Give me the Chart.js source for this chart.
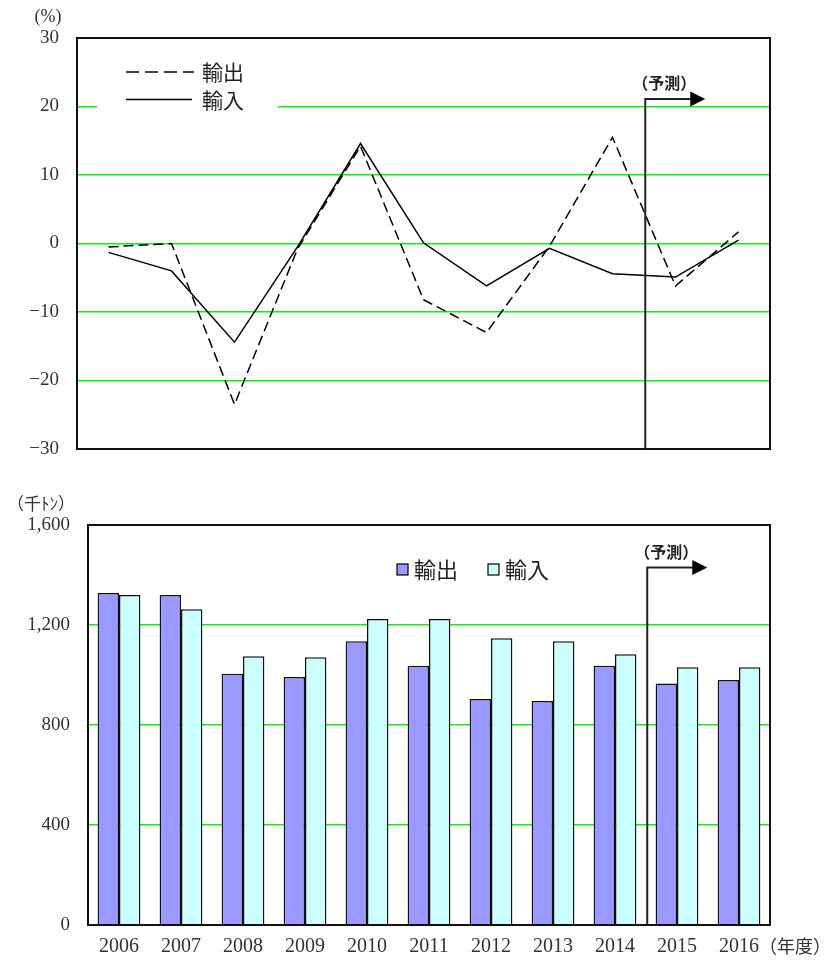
<!DOCTYPE html>
<html>
<head>
<meta charset="utf-8">
<script src="https://cdn.jsdelivr.net/npm/chart.js"></script>
<style>
  body { margin: 0; background: #fff; }
  canvas { display: block; }
</style>
</head>
<body>
<canvas id="growth_chart" width="832" height="470"></canvas>
<canvas id="volume_chart" width="832" height="495"></canvas>
<script>
// fiscal years
const years = ['2006', '2007', '2008', '2009', '2010', '2011', '2012', '2013', '2014', '2015', '2016'];

// year-on-year change (%)
const export_growth = [-0.5, 0.0, -23.5, -0.8, 14.2, -8.2, -13.0, -0.4, 15.5, -6.2, 1.7];
const import_growth = [-1.3, -4.0, -14.4, -0.5, 14.6, 0.1, -6.2, -0.7, -4.4, -4.9, 0.5];

// volume (thousand tons)
const export_volume = [1328, 1320, 1005, 992, 1135, 1037, 904, 896, 1037, 966, 980];
const import_volume = [1320, 1263, 1075, 1071, 1224, 1224, 1147, 1135, 1083, 1031, 1031];

const growth_ticks = [-30, -20, -10, 0, 10, 20, 30];
const volume_ticks = [0, 400, 800, 1200, 1600];

const forecast_from = 8.52;   // between 2014 and 2015
const forecast_label = '（予測）';

const SERIF = "'Liberation Serif', 'DejaVu Serif', serif";
const GOTHIC = "'Noto Sans CJK JP', 'Noto Sans', sans-serif";
const GRID_GREEN = '#11ee11';

function fmt_tick(v) {
  return v.toLocaleString('en-US').replace('-', '\u2212');
}

function draw_frame(ctx, area) {
  ctx.save();
  ctx.strokeStyle = '#111';
  ctx.lineWidth = 2;
  ctx.strokeRect(area.left, area.top, area.right - area.left, area.bottom - area.top);
  ctx.restore();
}

function draw_forecast(chart, value_y) {
  const ctx = chart.ctx;
  const x = chart.scales.x.getPixelForValue(forecast_from);
  const y = chart.scales.y.getPixelForValue(value_y);
  const bottom = chart.chartArea.bottom;
  ctx.save();
  ctx.strokeStyle = '#222';
  ctx.lineWidth = 2;
  ctx.beginPath();
  ctx.moveTo(x, bottom);
  ctx.lineTo(x, y);
  ctx.lineTo(x + 46, y);
  ctx.stroke();
  ctx.fillStyle = '#000';
  ctx.beginPath();
  ctx.moveTo(x + 45, y - 7.5);
  ctx.lineTo(x + 60, y);
  ctx.lineTo(x + 45, y + 7.5);
  ctx.closePath();
  ctx.fill();
  ctx.font = 'bold 16px ' + GOTHIC;
  ctx.fillStyle = '#222';
  ctx.textAlign = 'center';
  ctx.textBaseline = 'middle';
  ctx.fillText(forecast_label, x + 19, y - 16);
  ctx.restore();
}

const growth_overlay = {
  id: 'growth_overlay',
  beforeDatasetsDraw(chart) {
    const ctx = chart.ctx;
    ctx.save();
    // legend box sits on top of the 20% grid line
    ctx.fillStyle = '#fff';
    ctx.fillRect(97, 55, 181, 62);
    ctx.strokeStyle = '#000';
    ctx.lineWidth = 1.5;
    ctx.setLineDash([13, 6]);
    ctx.beginPath();
    ctx.moveTo(126, 72);
    ctx.lineTo(194, 72);
    ctx.stroke();
    ctx.setLineDash([]);
    ctx.beginPath();
    ctx.moveTo(126, 99.5);
    ctx.lineTo(192, 99.5);
    ctx.stroke();
    ctx.font = '21px ' + GOTHIC;
    ctx.fillStyle = '#222';
    ctx.textBaseline = 'middle';
    ctx.fillText('輸出', 202, 72);
    ctx.fillText('輸入', 202, 100);
    ctx.restore();
  },
  afterDatasetsDraw(chart) {
    draw_frame(chart.ctx, chart.chartArea);
    draw_forecast(chart, 21.1);
  },
  afterDraw(chart) {
    const ctx = chart.ctx;
    ctx.save();
    ctx.font = '18px ' + SERIF;
    ctx.fillStyle = '#333';
    ctx.textAlign = 'center';
    ctx.textBaseline = 'middle';
    ctx.fillText('(%)', 48, 17);
    ctx.restore();
  }
};

const volume_overlay = {
  id: 'volume_overlay',
  afterDatasetsDraw(chart) {
    const ctx = chart.ctx;
    draw_frame(ctx, chart.chartArea);
    draw_forecast(chart, 1430);

    // legend
    ctx.save();
    const items = [['輸出', '#9999ff', 397], ['輸入', '#ccffff', 488]];
    ctx.font = '22px ' + GOTHIC;
    ctx.textBaseline = 'middle';
    items.forEach(function (it) {
      ctx.fillStyle = it[1];
      ctx.fillRect(it[2], 94, 11, 11);
      ctx.strokeStyle = '#000';
      ctx.lineWidth = 1.2;
      ctx.strokeRect(it[2], 94, 11, 11);
      ctx.fillStyle = '#222';
      ctx.fillText(it[0], it[2] + 17, 100);
    });
    ctx.restore();
  },
  afterDraw(chart) {
    const ctx = chart.ctx;
    ctx.save();
    ctx.fillStyle = '#333';
    ctx.textBaseline = 'middle';
    ctx.textAlign = 'center';
    ctx.font = '17px ' + GOTHIC;
    ctx.fillText('（千ﾄﾝ）', 41, 34);
    ctx.textAlign = 'left';
    ctx.font = '18px ' + GOTHIC;
    ctx.fillText('（年度）', 759, 476);
    ctx.restore();
  }
};

// invisible tick marks push the labels away from the axis
// without adding the tick padding to the scale's top/bottom
const hidden_ticks = { color: GRID_GREEN, lineWidth: 1.5, tickLength: 18, tickColor: 'rgba(0,0,0,0)' };

function setup_growth_chart() {
  const ctx = document.getElementById('growth_chart').getContext('2d');
  new Chart(ctx, {
    type: 'line',
    data: {
      labels: years,
      datasets: [{
        label: '輸出',
        data: export_growth,
        borderColor: '#000',
        borderWidth: 1.5,
        borderDash: [10, 5],
        pointRadius: 0,
        tension: 0,
        fill: false
      }, {
        label: '輸入',
        data: import_growth,
        borderColor: '#000',
        borderWidth: 1.5,
        pointRadius: 0,
        tension: 0,
        fill: false
      }]
    },
    options: {
      responsive: false,
      animation: false,
      layout: { padding: { left: 0, top: 38, right: 62, bottom: 21 } },
      plugins: { legend: { display: false }, tooltip: { enabled: false } },
      scales: {
        x: { display: false, offset: true },
        y: {
          min: growth_ticks[0],
          max: growth_ticks[growth_ticks.length - 1],
          afterBuildTicks: function (scale) {
            scale.ticks = growth_ticks.map(v => ({ value: v }));
          },
          afterFit: function (scale) { scale.width = 77; },
          border: { display: false },
          grid: hidden_ticks,
          ticks: {
            padding: 0,
            color: '#333',
            font: { family: SERIF, size: 19 },
            callback: fmt_tick
          }
        }
      }
    },
    plugins: [growth_overlay]
  });
}

function setup_volume_chart() {
  const ctx = document.getElementById('volume_chart').getContext('2d');
  new Chart(ctx, {
    type: 'bar',
    data: {
      labels: years,
      datasets: [{
        label: '輸出',
        data: export_volume,
        backgroundColor: '#9999ff',
        borderColor: '#111',
        borderWidth: 1.5,
        categoryPercentage: 0.69,
        barPercentage: 1.0
      }, {
        label: '輸入',
        data: import_volume,
        backgroundColor: '#ccffff',
        borderColor: '#111',
        borderWidth: 1.5,
        categoryPercentage: 0.69,
        barPercentage: 1.0
      }]
    },
    options: {
      responsive: false,
      animation: false,
      layout: { padding: { left: 0, top: 55, right: 62, bottom: 0 } },
      plugins: { legend: { display: false }, tooltip: { enabled: false } },
      scales: {
        x: {
          afterFit: function (scale) { scale.height = 40; },
          border: { display: false },
          grid: { display: false, drawTicks: false },
          ticks: {
            padding: 10,
            color: '#333',
            maxRotation: 0,
            font: { family: SERIF, size: 20 }
          }
        },
        y: {
          min: volume_ticks[0],
          max: volume_ticks[volume_ticks.length - 1],
          afterBuildTicks: function (scale) {
            scale.ticks = volume_ticks.map(v => ({ value: v }));
          },
          afterFit: function (scale) { scale.width = 88; },
          border: { display: false },
          grid: hidden_ticks,
          ticks: {
            padding: 0,
            color: '#333',
            font: { family: SERIF, size: 19 },
            callback: fmt_tick
          }
        }
      }
    },
    plugins: [volume_overlay]
  });
}

(() => {
  setup_growth_chart();
  setup_volume_chart();
})()
</script>
</body>
</html>
